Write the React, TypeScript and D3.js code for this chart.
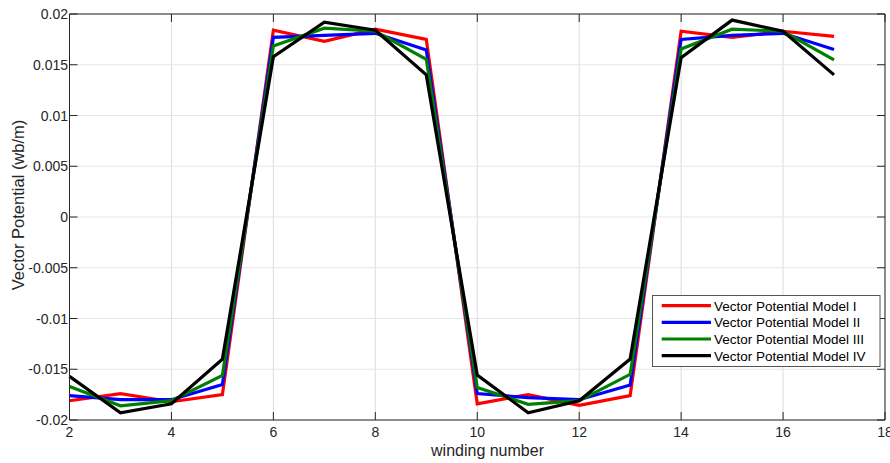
import React from "react";
import * as d3 from "d3";

const windings = [2, 3, 4, 5, 6, 7, 8, 9, 10, 11, 12, 13, 14, 15, 16, 17];

const modelI = [-0.0181, -0.0174, -0.0182, -0.0175, 0.0184, 0.0173, 0.0185, 0.0175, -0.0184, -0.0175, -0.01855, -0.0176, 0.0183, 0.0177, 0.0183, 0.0178];
const modelII = [-0.0176, -0.0180, -0.0180, -0.0165, 0.0177, 0.0179, 0.0181, 0.01645, -0.0174, -0.0178, -0.0180, -0.01655, 0.0175, 0.0179, 0.0181, 0.0165];
const modelIII = [-0.0167, -0.0186, -0.0181, -0.0156, 0.01685, 0.0186, 0.0183, 0.01553, -0.0168, -0.01845, -0.0181, -0.0155, 0.01655, 0.0185, 0.0183, 0.01547];
const modelIV = [-0.0157, -0.0193, -0.0184, -0.0140, 0.0158, 0.0192, 0.0184, 0.0140, -0.01557, -0.0193, -0.0181, -0.0140, 0.0157, 0.0194, 0.0183, 0.0140];

const seriesNames = ["Vector Potential Model I", "Vector Potential Model II", "Vector Potential Model III", "Vector Potential Model IV"];
const seriesColors = ["#ff0000", "#0000ff", "#008000", "#000000"];
const seriesValues = [modelI, modelII, modelIII, modelIV];

const xTicks = [2, 4, 6, 8, 10, 12, 14, 16, 18];
const yTicks = [-0.02, -0.015, -0.01, -0.005, 0, 0.005, 0.01, 0.015, 0.02];
const yTickLabels = ["-0.02", "-0.015", "-0.01", "-0.005", "0", "0.005", "0.01", "0.015", "0.02"];

const xLabel = "winding number";
const yLabel = "Vector Potential (wb/m)";

export default function App() {
  const W = 890, H = 463;
  const left = 69.5, right = 885, top = 14, bottom = 420;
  const x = d3.scaleLinear().domain([2, 18]).range([left, right]);
  const y = d3.scaleLinear().domain([-0.02, 0.02]).range([bottom, top]);
  const line = d3.line<number>().x((_, i) => x(windings[i])).y((d) => y(d));
  const font = "'Liberation Sans', Arial, sans-serif";
  const textColor = "#262626";
  const tickLen = 8;

  const legX = 652.5, legY = 295.5, legW = 227.5, legH = 71;
  const rowY = [305.7, 322.3, 339, 355.7];

  return (
    <svg width={W} height={H} style={{ position: "absolute", left: 0, top: 0, background: "#fff" }}>
      <rect x={0} y={0} width={W} height={H} fill="#fff" />
      {/* grid */}
      {xTicks.map((t) => (
        <line key={"gx" + t} x1={x(t)} x2={x(t)} y1={top} y2={bottom} stroke="#dcdcdc" strokeWidth={1} />
      ))}
      {yTicks.map((t) => (
        <line key={"gy" + t} x1={left} x2={right} y1={y(t)} y2={y(t)} stroke="#e6e6e6" strokeWidth={1} />
      ))}
      {/* data */}
      {seriesValues.map((vals, i) => (
        <path key={"s" + i} d={line(vals) || ""} fill="none" stroke={seriesColors[i]} strokeWidth={3.2} strokeLinejoin="miter" />
      ))}
      {/* spines */}
      <line x1={left} x2={right} y1={top} y2={top} stroke="#8c8c8c" strokeWidth={2} />
      <line x1={left} x2={right} y1={bottom} y2={bottom} stroke="#262626" strokeWidth={1} />
      <line x1={left} x2={left} y1={top} y2={bottom} stroke="#262626" strokeWidth={1} />
      <line x1={right} x2={right} y1={top} y2={bottom} stroke="#262626" strokeWidth={1} />
      {/* ticks */}
      {xTicks.map((t) => (
        <g key={"tx" + t}>
          <line x1={x(t)} x2={x(t)} y1={bottom} y2={bottom - tickLen} stroke="#262626" strokeWidth={1} />
          <line x1={x(t)} x2={x(t)} y1={top} y2={top + tickLen} stroke="#262626" strokeWidth={1} />
          <text x={x(t)} y={437} textAnchor="middle" fontFamily={font} fontSize={14} fill={textColor}>{t}</text>
        </g>
      ))}
      {yTicks.map((t, i) => (
        <g key={"ty" + t}>
          <line x1={left} x2={left + tickLen} y1={y(t)} y2={y(t)} stroke="#262626" strokeWidth={1} />
          <line x1={right} x2={right - tickLen} y1={y(t)} y2={y(t)} stroke="#262626" strokeWidth={1} />
          <text x={68} y={y(t) + 5} textAnchor="end" fontFamily={font} fontSize={14} fill={textColor}>{yTickLabels[i]}</text>
        </g>
      ))}
      {/* axis labels */}
      <text x={487.5} y={456} textAnchor="middle" fontFamily={font} fontSize={16} fill={textColor}>{xLabel}</text>
      <text transform={`translate(24,205) rotate(-90)`} textAnchor="middle" fontFamily={font} fontSize={16.5} fill={textColor}>{yLabel}</text>
      {/* legend */}
      <rect x={legX} y={legY} width={legW} height={legH} fill="#fff" stroke="#555" strokeWidth={1} />
      {seriesNames.map((name, i) => (
        <g key={"l" + i}>
          <line x1={661.7} x2={711} y1={rowY[i]} y2={rowY[i]} stroke={seriesColors[i]} strokeWidth={3.2} />
          <text x={714} y={rowY[i] + 4.8} fontFamily={font} fontSize={13.5} fill="#000">{name}</text>
        </g>
      ))}
    </svg>
  );
}
